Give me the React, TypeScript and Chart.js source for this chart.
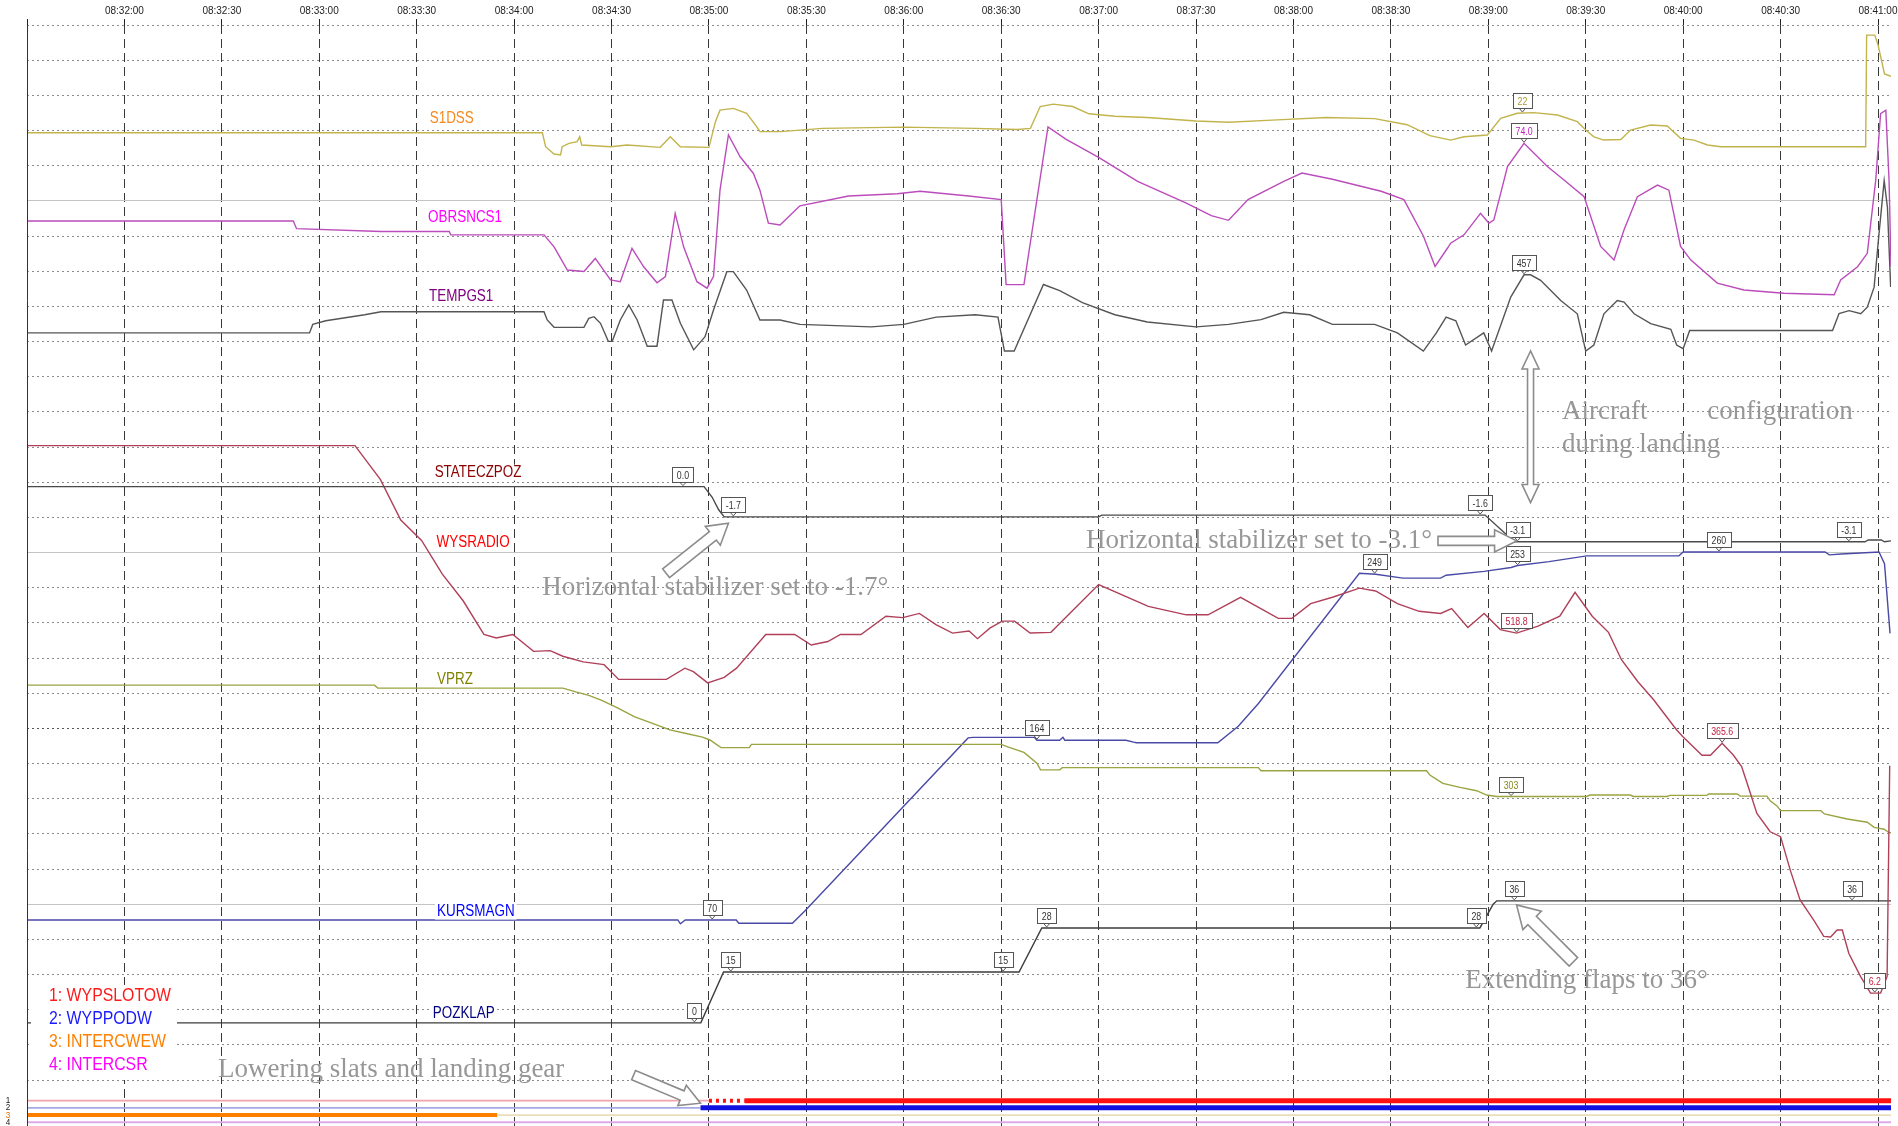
import React, { useEffect, useRef } from 'react';
import { Chart, registerables } from 'chart.js';

Chart.register(...registerables);

type Pt = [number, number];

// ---------- time axis (seconds relative to 08:32:00) ----------
const TIME_MIN = -30;
const TIME_MAX = 544;
const TIME_STEP = 30;

// ---------- analog parameters: [time s, value] ----------
const S1DSS: Pt[] = [
  [-30, 13.7], [128.7, 13.7], [129.7, 7.9], [132.3, 4.9], [134.3, 4.5], [134.8, 7.9], [136.9, 9.3], [139.4, 10],
  [140.2, 12], [140.8, 8.6], [149.7, 7.9], [154.8, 8.6], [165, 7.65], [168.1, 12], [171.2, 7.9], [180, 7.65],
  [182, 18.25], [183.4, 23], [187.5, 23.75], [191.6, 21.7], [194.7, 16.2], [195.7, 14.15], [202, 14.15], [215, 15.5],
  [240, 16], [262, 15.5], [275, 15], [279, 15.5], [282, 24.5], [286, 25.5], [292, 24.5], [297, 21.5], [305, 20.5],
  [315, 20], [330, 18.5], [340, 18], [355, 19], [370, 20], [385, 19.5], [395, 17], [402, 12.5], [408.4, 10.65],
  [412.5, 12], [419.7, 12.75], [423.8, 19.65], [428.9, 21.7], [434, 22], [441.3, 21], [447.4, 18.25], [450, 14.8],
  [452.5, 12], [455.6, 10.65], [460.8, 10.9], [463.8, 14.8], [470, 16.85], [475.1, 16.45], [479.2, 11.35],
  [483.3, 10.65], [487.5, 8.6], [491.6, 7.9], [536.2, 7.9], [536.5, 54], [539, 54], [540, 50], [542, 38], [544, 37],
];

const OBRSNCS1: Pt[] = [
  [-30, 52.6], [52, 52.6], [53, 50.5], [79, 49.7], [100, 49.7], [100.5, 48.8], [129.2, 48.8], [132.3, 45.5],
  [136.4, 39.1], [141.5, 38.7], [145, 42.3], [149.7, 36.4], [152.7, 35.9], [156.3, 45.1], [159.9, 40], [164, 35.6],
  [166.6, 37.3], [169.6, 54.7], [172.2, 45.5], [176.3, 35.9], [179.4, 34.1], [181.4, 37.3], [183.4, 61.1], [186, 76.3],
  [189.6, 70.3], [193.7, 65.7], [195.7, 61.1], [198.3, 52], [201.9, 51.5], [208, 56.8], [223, 59.5], [238, 60.1],
  [245, 60.8], [260, 59.5], [270, 58.5], [271.5, 35.1], [277, 35.1], [284.4, 78.5], [290, 75.1], [300, 70.1],
  [312, 63.5], [327, 57.5], [334.7, 54.1], [340, 52.8], [346, 58.5], [357, 63.5], [362.6, 65.8], [372, 64.1],
  [387, 60.8], [394, 58.5], [400, 48.5], [403.6, 40.1], [407.4, 45.1], [408.4, 46.5], [412.5, 48.8], [417.6, 54.7],
  [420.2, 52], [421.7, 52.9], [423.8, 60.2], [425.9, 67.6], [431, 74], [438.2, 67.6], [443.3, 63.9], [449.5, 59.3],
  [450.5, 56.6], [454.6, 45.6], [458.7, 41.9], [461.8, 50.2], [465.9, 59.3], [472.1, 62.5], [475.6, 61.1],
  [479.2, 45.6], [482.3, 41.9], [490.5, 35.5], [498.7, 33.6], [511, 32.7], [526.5, 32.3], [528.5, 36.4],
  [533.7, 40], [536.7, 43.7], [539.3, 63.9], [540.8, 82.2], [542.4, 83.1], [543.4, 63.9], [544, 40],
];

const TEMPGS1: Pt[] = [
  [-30, 337], [57, 337], [58, 354.5], [62, 362], [74, 374.5], [79, 380.75], [129.2, 380.75], [130.2, 363.75],
  [132.3, 348.5], [141.5, 348.5], [143, 367], [144.6, 370.5], [146.6, 356.75], [149, 319.5], [150.2, 319.5],
  [152.7, 363.75], [155.3, 394.75], [157.9, 363.75], [161, 309.5], [164, 309.5], [166, 405], [168.6, 405],
  [171.2, 356.75], [175.3, 302], [178.8, 329.25], [181.4, 384.25], [185.5, 463.5], [187.5, 463.5], [191.6, 425.5],
  [195.7, 363.75], [201.9, 363.75], [208, 354.5], [230, 349.5], [240, 354.5], [250, 369.5], [262, 374.5],
  [269, 369.5], [271, 299.5], [274, 299.5], [283, 437], [288, 424.5], [295, 399.5], [305, 374.5], [315, 359.5],
  [330, 349.5], [340, 354.5], [350, 364.5], [357, 379.5], [365, 374.5], [372, 354.5], [385, 354.5], [392, 337],
  [400, 299.5], [404, 337], [407, 369.5], [410, 362], [413, 312], [418.6, 337], [421, 299.5], [426.9, 411],
  [431, 457], [433, 457], [436.1, 445.5], [442.3, 404], [447.4, 376.5], [450, 299.5], [452.5, 312], [455.6, 376.5],
  [459.7, 404], [461.8, 400.5], [464.9, 376.5], [470, 356], [476.2, 344.5], [478, 312], [480, 304.5], [482, 342],
  [526, 342], [528, 377], [531.1, 383], [534.7, 376.5], [536.7, 390], [538.8, 431.5], [540.3, 541.5],
  [541.9, 651.5], [542.9, 596.5], [543.9, 432],
];

const STATECZPOZ: Pt[] = [
  [-30, 0], [178.5, 0], [181, -0.6], [183, -1.3], [184.7, -1.7], [300, -1.7], [301, -1.6], [419, -1.6],
  [428, -3.1], [536, -3.1], [537, -3.0], [541, -3.0], [542, -3.1], [544, -3.05],
];

const WYSRADIO: Pt[] = [
  [-30, 786], [71, 786], [78.8, 738], [85.1, 680], [91.5, 651], [97.9, 603], [104.3, 565], [110.7, 517],
  [114.5, 512], [119.6, 517], [126, 493], [131.1, 494], [135, 486], [141.3, 478], [147.7, 474], [152.2, 453],
  [166.9, 453], [172.6, 469], [175.2, 464], [179.6, 448], [184.7, 456], [188.5, 469], [197.5, 517], [206.4, 517],
  [211.5, 502], [216.6, 507], [220.5, 517], [226.8, 517], [234.5, 543], [239.7, 541], [244.8, 547], [249.9, 531],
  [255, 519], [260.1, 522], [262.7, 511], [266.5, 526], [270.3, 536], [274.1, 536], [278.9, 519], [285.3, 520],
  [300, 588], [315.3, 557], [327, 545], [333.7, 545], [343.7, 570], [355.3, 540], [359.5, 540], [365.3, 561],
  [372, 570], [380.3, 583], [385.3, 579], [392, 561], [398.7, 550], [405.3, 547], [408.7, 554], [413.7, 527],
  [418.7, 547], [423.7, 524], [428.7, 519], [435.3, 529], [442, 543], [446.7, 577], [452, 543], [457, 520],
  [461, 481], [466, 450], [470.9, 424], [478, 381], [480, 371], [485.8, 345], [488.4, 345], [492, 362],
  [495.5, 345], [498, 329], [499.7, 305], [502.7, 262], [506.8, 236], [510, 229], [513, 181], [516, 139],
  [520.2, 110], [523.3, 87], [525.4, 86], [527.4, 96], [529, 96], [531, 63], [534.6, 30], [537.7, 6.2],
  [540.8, 6.2], [542.8, 30], [543.6, 330],
];

const VPRZ: Pt[] = [
  [-30, 456.3], [77, 456.3], [78, 452.2], [135, 452.2], [139, 447], [143, 442.3], [147, 435.5], [152, 424.7],
  [157, 413], [163, 403], [168, 394.7], [173, 389.7], [178, 384.7], [180.3, 380.8], [183.7, 370.3], [192.4, 370.3],
  [193.1, 374.8], [270, 374.8], [272, 371.3], [277, 363.8], [281, 348.8], [282.1, 339.7], [288, 339.7],
  [288.8, 342.7], [349.2, 342.7], [350, 338.5], [401, 338.5], [402, 332.5], [406, 321], [411.3, 315.5],
  [416.4, 311], [419.5, 305], [422.6, 303], [450.3, 303], [451.3, 305], [463.7, 305], [464.7, 303], [475, 303],
  [476, 304.5], [487.3, 304.5], [487.8, 306.5], [496.6, 306.5], [497.6, 303.5], [505.8, 303.5], [506.8, 297],
  [508.9, 290], [510, 283.5], [522.4, 283.5], [523.5, 279], [530.5, 272], [536.7, 267.5], [538.8, 260.5],
  [541.9, 258], [543.3, 253.5], [544, 253],
];

const KURSMAGN: Pt[] = [
  [-30, 70], [170.4, 70], [171.2, 68], [172.7, 70], [188.4, 70], [189.2, 68.3], [205.7, 68.3], [209.6, 74.8],
  [259.8, 164], [261.4, 164.3], [280.2, 164.3], [281, 162.8], [288, 162.8], [289, 164.3], [289.6, 162.8],
  [308.4, 162.8], [310.8, 161.8], [311.6, 161.5], [336.7, 161.5], [343, 170], [349.2, 181.8], [380.3, 249],
  [385.3, 248.5], [393.7, 246.5], [405.3, 246.5], [407, 248], [418.7, 250], [427, 252], [429, 253], [438.7, 255],
  [450.3, 258], [478.7, 258], [480, 260], [523.7, 260], [525, 258.5], [528.7, 259], [540.3, 260], [542, 254],
  [543.7, 218],
];

const POZKLAP: Pt[] = [
  [-30, 0], [177.5, 0], [184.5, 15], [275.5, 15], [282.5, 28], [417.4, 28], [421.5, 35], [422.6, 36], [544, 36],
];

// ---------- discrete parameters (time of change, state: 0 off, 1 on, 2 transient) ----------
const WYPSLOTOW_T = [-30, 180, 191, 544];
const WYPSLOTOW_S = [0, 2, 1, 1];
const WYPPODW_T = [-30, 177.4, 544];
const WYPPODW_S = [0, 1, 1];
const INTERCWEW_T = [-30, 114.8, 544];
const INTERCWEW_S = [1, 0, 0];
const INTERCSR_T = [-30, 544];
const INTERCSR_S = [0, 0];

const LEGEND_LABELS = ['1: WYPSLOTOW', '2: WYPPODW', '3: INTERCWEW', '4: INTERCSR'];

// value boxes: [parameter, time, text]
const MARKERS: [string, number, string][] = [
  ['S1DSS', 430.5, '22'], ['OBRSNCS1', 431, '74.0'], ['TEMPGS1', 431, '457'],
  ['STATECZPOZ', 172, '0.0'], ['STATECZPOZ', 187.5, '-1.7'], ['STATECZPOZ', 417.5, '-1.6'],
  ['STATECZPOZ', 429, '-3.1'], ['STATECZPOZ', 531, '-3.1'],
  ['KURSMAGN', 181, '70'], ['KURSMAGN', 281, '164'], ['KURSMAGN', 385, '249'], ['KURSMAGN', 429, '253'],
  ['KURSMAGN', 491, '260'],
  ['WYSRADIO', 428.7, '518.8'], ['WYSRADIO', 492, '365.6'], ['WYSRADIO', 539, '6.2'],
  ['VPRZ', 427, '303'],
  ['POZKLAP', 175.5, '0'], ['POZKLAP', 186.7, '15'], ['POZKLAP', 270.6, '15'], ['POZKLAP', 284, '28'],
  ['POZKLAP', 416.3, '28'], ['POZKLAP', 428, '36'], ['POZKLAP', 532, '36'],
];

// ---------- styling / placement (not data) ----------
const SERIES = [
  { key: 'S1DSS', data: S1DSS, color: '#c2b44c', min: -396.6, max: 58.18, nameColor: '#f58a1f', nameT: 100.8, nameR: 27.34, markColor: '#a89a30' },
  { key: 'OBRSNCS1', data: OBRSNCS1, color: '#bb4cbb', min: -196.6, max: 106.58, nameColor: '#ff00ff', nameT: 104.9, nameR: 24.51, markColor: '#c020c0' },
  { key: 'TEMPGS1', data: TEMPGS1, color: '#555555', min: -1301, max: 972.9, nameColor: '#800080', nameT: 103.7, nameR: 22.27, markColor: '#333333' },
  { key: 'STATECZPOZ', data: STATECZPOZ, color: '#4a4a4a', min: -35.93, max: 25.94, nameColor: '#8b0000', nameT: 108.9, nameR: 17.27, markColor: '#333333' },
  { key: 'WYSRADIO', data: WYSRADIO, color: '#b0405a', min: -183.1, max: 1385.1, nameColor: '#ff0000', nameT: 107.4, nameR: 15.28, markColor: '#c02040' },
  { key: 'VPRZ', data: VPRZ, color: '#9aa440', min: -150.67, max: 1365.25, nameColor: '#808000', nameT: 101.8, nameR: 11.4, markColor: '#8a8a20' },
  { key: 'KURSMAGN', data: KURSMAGN, color: '#4a4aa6', min: -36.375, max: 532.1, nameColor: '#0000ff', nameT: 108.2, nameR: 4.79, markColor: '#333333' },
  { key: 'POZKLAP', data: POZKLAP, color: '#3c3c3c', min: -30.43, max: 294.4, nameColor: '#000080', nameT: 104.5, nameR: 1.88, markColor: '#333333' },
];

const TRACKS = [
  { key: 'WYPSLOTOW', t: WYPSLOTOW_T, s: WYPSLOTOW_S, level: 1, on: '#ff1010', off: '#f0a4ac', wOn: 5, labelColor: '#111' },
  { key: 'WYPPODW', t: WYPPODW_T, s: WYPPODW_S, level: 2, on: '#1010e0', off: '#a4aae4', wOn: 5, labelColor: '#222' },
  { key: 'INTERCWEW', t: INTERCWEW_T, s: INTERCWEW_S, level: 3, on: '#ff8000', off: '#ecdcb8', wOn: 4, labelColor: '#e07000' },
  { key: 'INTERCSR', t: INTERCSR_T, s: INTERCSR_S, level: 4, on: '#ff00ff', off: '#dcaae8', wOn: 4, labelColor: '#222' },
];
const LEGEND_COLORS = ['#ff1a1a', '#1a1aff', '#ff8000', '#ff00ff'];

const NOTES = [
  { text: 'Aircraft', t: 442.7, r: 19.0, align: 'left' },
  { text: 'configuration', t: 532.2, r: 19.0, align: 'right' },
  { text: 'during landing', t: 442.7, r: 18.07, align: 'left' },
  { text: 'Horizontal stabilizer set to -1.7°', t: 128.7, r: 13.98, align: 'left' },
  { text: 'Horizontal stabilizer set to -3.1°', t: 296.1, r: 15.32, align: 'left' },
  { text: 'Extending flaps to 36°', t: 412.9, r: 2.83, align: 'left' },
  { text: 'Lowering slats and landing gear', t: 28.8, r: 0.28, align: 'left' },
];

const ARROWS = [
  { t1: 433, r1: 20.73, t2: 433, r2: 16.42, both: true, sh: 3, hh: 8.5, hl: 18 },
  { t1: 166.8, r1: 14.41, t2: 186, r2: 15.83, both: false, sh: 5.5, hh: 12, hl: 20 },
  { t1: 404.5, r1: 15.33, t2: 428.7, r2: 15.33, both: false, sh: 4.5, hh: 11, hl: 22 },
  { t1: 446.2, r1: 3.36, t2: 428.7, r2: 4.98, both: false, sh: 6, hh: 13, hl: 22 },
  { t1: 156.8, r1: 0.14, t2: 177.4, r2: -0.66, both: false, sh: 5, hh: 11, hl: 20 },
];

const SANS = '"Liberation Sans", Arial, sans-serif';

function interp(data: Pt[], t: number): number {
  for (let i = 1; i < data.length; i++) {
    if (data[i][0] >= t) {
      const [t0, v0] = data[i - 1];
      const [t1, v1] = data[i];
      return t1 === t0 ? v1 : v0 + ((v1 - v0) * (t - t0)) / (t1 - t0);
    }
  }
  return data[data.length - 1][1];
}

function fmtTime(t: number): string {
  const total = 8 * 3600 + 32 * 60 + t;
  const p = (n: number) => String(n).padStart(2, '0');
  return `${p(Math.floor(total / 3600))}:${p(Math.floor((total % 3600) / 60))}:${p(Math.round(total % 60))}`;
}

function narrowText(ctx: CanvasRenderingContext2D, text: string, x: number, y: number, size: number,
  color: string, align: CanvasTextAlign, sx: number, bg?: boolean) {
  ctx.save();
  ctx.font = `${size}px ${SANS}`;
  const w = ctx.measureText(text).width * sx;
  if (bg) {
    let left = x - w / 2;
    if (align === 'left') left = x;
    if (align === 'right') left = x - w;
    ctx.fillStyle = '#ffffff';
    ctx.fillRect(left - 2, y - size * 0.5, w + 4, size);
  }
  ctx.fillStyle = color;
  ctx.textAlign = align;
  ctx.textBaseline = 'middle';
  ctx.translate(x, y);
  ctx.scale(sx, 1);
  ctx.fillText(text, 0, 0);
  ctx.restore();
  return w;
}

function blockArrow(ctx: CanvasRenderingContext2D, x1: number, y1: number, x2: number, y2: number,
  sh: number, hh: number, hl: number, both: boolean) {
  const dx = x2 - x1, dy = y2 - y1;
  const L = Math.hypot(dx, dy);
  const ux = dx / L, uy = dy / L, nx = -uy, ny = ux;
  const P = (a: number, b: number): Pt => [x1 + ux * a + nx * b, y1 + uy * a + ny * b];
  const pts: Pt[] = both
    ? [P(0, 0), P(hl, hh), P(hl, sh), P(L - hl, sh), P(L - hl, hh), P(L, 0), P(L - hl, -hh), P(L - hl, -sh), P(hl, -sh), P(hl, -hh)]
    : [P(0, sh), P(L - hl, sh), P(L - hl, hh), P(L, 0), P(L - hl, -hh), P(L - hl, -sh), P(0, -sh)];
  ctx.save();
  ctx.beginPath();
  pts.forEach((p, i) => (i ? ctx.lineTo(p[0], p[1]) : ctx.moveTo(p[0], p[1])));
  ctx.closePath();
  ctx.fillStyle = '#ffffff';
  ctx.fill();
  ctx.strokeStyle = '#8c8c8c';
  ctx.lineWidth = 1.6;
  ctx.lineJoin = 'miter';
  ctx.stroke();
  ctx.restore();
}

const annotationPlugin = {
  id: 'fdrAnnotations',
  afterDatasetsDraw(chart: any) {
    const ctx: CanvasRenderingContext2D = chart.ctx;
    const area = chart.chartArea;
    const xs = chart.scales.x;
    const gs = chart.scales.g;
    const X = (t: number) => xs.getPixelForValue(t);
    const R = (r: number) => gs.getPixelForValue(r);

    // solid left frame
    ctx.save();
    ctx.strokeStyle = '#333';
    ctx.lineWidth = 1;
    ctx.beginPath();
    ctx.moveTo(area.left + 0.5, area.top);
    ctx.lineTo(area.left + 0.5, area.bottom);
    ctx.stroke();
    ctx.restore();

    // parameter names
    SERIES.forEach((s) => {
      narrowText(ctx, s.key, X(s.nameT), R(s.nameR), 16, s.nameColor, 'center', 0.84, true);
    });

    // value boxes
    MARKERS.forEach(([key, t, text]) => {
      const s = SERIES.find((q) => q.key === key)!;
      const scale = chart.scales[key];
      const x = X(t);
      const tipY = scale.getPixelForValue(interp(s.data, t));
      ctx.save();
      ctx.font = `11px ${SANS}`;
      const w = ctx.measureText(text).width * 0.8;
      const bw = Math.round(w + 9), bh = 15;
      const bx = Math.round(x - bw / 2) + 0.5;
      const by = Math.round(tipY - 5 - bh) + 0.5;
      ctx.fillStyle = '#fff';
      ctx.fillRect(bx, by, bw, bh);
      ctx.strokeStyle = '#555';
      ctx.lineWidth = 1;
      ctx.strokeRect(bx, by, bw, bh);
      ctx.beginPath();
      ctx.moveTo(x - 3, by + bh);
      ctx.lineTo(x, tipY - 1);
      ctx.lineTo(x + 3, by + bh);
      ctx.stroke();
      ctx.restore();
      narrowText(ctx, text, x, by + bh / 2 + 0.5, 11, s.markColor, 'center', 0.8);
    });

    // legend box of discrete parameters
    const lx = area.left + 4, ly = 985;
    ctx.save();
    ctx.fillStyle = '#ffffff';
    ctx.fillRect(lx, ly, 146, 95);
    ctx.restore();
    LEGEND_LABELS.forEach((lab, i) => {
      narrowText(ctx, lab, lx + 18, ly + 11 + i * 23, 18, LEGEND_COLORS[i], 'left', 0.88);
    });

    // discrete track numbers
    const dsc = chart.scales.d;
    TRACKS.forEach((tr) => {
      narrowText(ctx, String(tr.level), 8, dsc.getPixelForValue(tr.level), 9, tr.labelColor, 'center', 0.9);
    });

    // annotation texts
    ctx.save();
    ctx.font = '27px "Liberation Serif", "Times New Roman", serif';
    ctx.fillStyle = '#979797';
    ctx.textBaseline = 'middle';
    NOTES.forEach((n) => {
      ctx.textAlign = n.align as CanvasTextAlign;
      ctx.fillText(n.text, X(n.t), R(n.r));
    });
    ctx.restore();

    // arrows
    ARROWS.forEach((a) => {
      blockArrow(ctx, X(a.t1), R(a.r1), X(a.t2), R(a.r2), a.sh, a.hh, a.hl, a.both);
    });
  },
};

export default function App() {
  const ref = useRef<HTMLCanvasElement>(null);

  useEffect(() => {
    document.body.style.margin = '0';
    const canvas = ref.current!;

    const datasets: any[] = [];
    SERIES.forEach((s) => {
      datasets.push({
        label: s.key,
        data: s.data.map(([x, y]) => ({ x, y })),
        yAxisID: s.key,
        borderColor: s.color,
        borderWidth: 1.4,
        pointRadius: 0,
        tension: 0,
        fill: false,
      });
    });
    TRACKS.forEach((tr) => {
      datasets.push({
        label: tr.key,
        data: tr.t.map((x) => ({ x, y: tr.level })),
        yAxisID: 'd',
        borderColor: tr.off,
        borderWidth: 1.6,
        pointRadius: 0,
        tension: 0,
        fill: false,
        segment: {
          borderColor: (c: any) => (tr.s[c.p0DataIndex] ? tr.on : tr.off),
          borderWidth: (c: any) => (tr.s[c.p0DataIndex] === 1 ? tr.wOn : tr.s[c.p0DataIndex] === 2 ? 4 : 1.8),
          borderDash: (c: any) => (tr.s[c.p0DataIndex] === 2 ? [3, 4] : []),
        },
      });
    });

    const scales: any = {
      x: {
        type: 'linear',
        position: 'top',
        min: TIME_MIN,
        max: TIME_MAX,
        bounds: 'data',
        afterBuildTicks: (sc: any) => {
          sc.ticks = sc.ticks.filter((t: any) => Math.abs(t.value % TIME_STEP) < 1e-6);
        },
        afterFit: (sc: any) => {
          sc.height = 19;
          sc.paddingLeft = 0;
          sc.paddingRight = 0;
        },
        ticks: {
          stepSize: TIME_STEP,
          includeBounds: false,
          maxTicksLimit: 100,
          autoSkip: false,
          maxRotation: 0,
          padding: 2,
          color: '#222',
          font: { family: '"Liberation Sans Narrow", "Liberation Sans", sans-serif', size: 10 },
          callback: (v: number) => (v <= TIME_MIN ? '' : fmtTime(v)),
        },
        grid: { color: '#383838', lineWidth: 1, tickLength: 6, tickColor: '#222' },
        border: { display: false, dash: [9, 5] },
      },
      g: {
        type: 'linear',
        position: 'left',
        min: -1.308,
        max: 30,
        afterBuildTicks: (sc: any) => {
          sc.ticks = sc.ticks.filter((t: any) => t.value >= -0.01 && Math.abs(t.value - Math.round(t.value)) < 0.01);
        },
        afterFit: (sc: any) => { sc.width = 0; },
        ticks: { display: false, stepSize: 1, maxTicksLimit: 100 },
        grid: {
          drawTicks: false,
          color: (c: any) => (c.tick && Math.round(c.tick.value) === 10 ? '#555555' : '#8c8c8c'),
          lineWidth: 1,
        },
        border: { display: false, dash: [2, 3] },
      },
      g2: {
        type: 'linear',
        position: 'left',
        min: -1.308,
        max: 30,
        afterBuildTicks: (sc: any) => {
          sc.ticks = sc.ticks.filter((t: any) => [5, 15, 25].includes(Math.round(t.value)) && Math.abs(t.value - Math.round(t.value)) < 0.01);
        },
        afterFit: (sc: any) => { sc.width = 0; },
        ticks: { display: false, stepSize: 5, maxTicksLimit: 100 },
        grid: { drawTicks: false, color: '#c4c4c4', lineWidth: 1 },
        border: { display: false },
      },
      d: {
        type: 'linear',
        display: false,
        reverse: true,
        min: -148.4,
        max: 4.52,
      },
    };
    SERIES.forEach((s) => {
      scales[s.key] = { type: 'linear', display: false, min: s.min, max: s.max };
    });

    const chart = new Chart(canvas, {
      type: 'line',
      data: { datasets },
      options: {
        responsive: false,
        animation: false,
        devicePixelRatio: 1,
        events: [],
        layout: { padding: { top: 6, left: 27, right: 7, bottom: 0 } },
        plugins: { legend: { display: false }, tooltip: { enabled: false }, title: { display: false } },
        scales,
      },
      plugins: [annotationPlugin],
    } as any);

    return () => chart.destroy();
  }, []);

  return (
    <div style={{ width: 1898, height: 1126, background: '#ffffff', overflow: 'hidden' }}>
      <canvas ref={ref} width={1898} height={1126} style={{ display: 'block', width: 1898, height: 1126 }} />
    </div>
  );
}
